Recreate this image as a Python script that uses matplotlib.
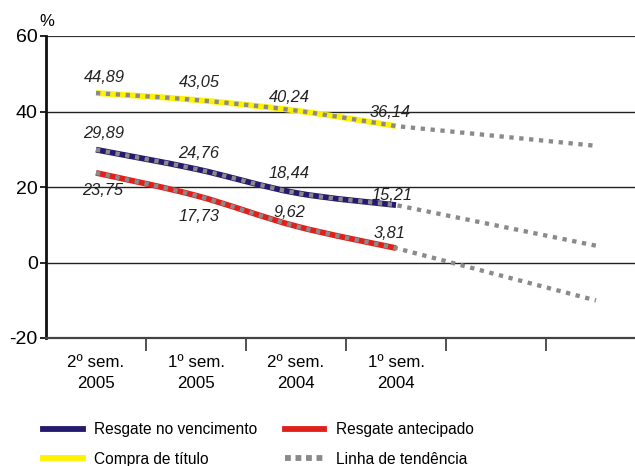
import numpy as np
import matplotlib
matplotlib.use("Agg")
import matplotlib.pyplot as plt
from matplotlib.lines import Line2D
from matplotlib.path import Path
from matplotlib.patches import PathPatch

plt.rcParams['font.family'] = ['Liberation Sans', 'DejaVu Sans']

periods = ["2º sem.\n2005", "1º sem.\n2005", "2º sem.\n2004", "1º sem.\n2004", "", ""]
compra = [44.89, 43.05, 40.24, 36.14]
vencimento = [29.89, 24.76, 18.44, 15.21]
antecipado = [23.75, 17.73, 9.62, 3.81]

# label offsets in pixels (dx, dy) for each point
off_compra = [(8, 16), (3, 17), (-7, 13), (-6, 14)]
off_venc = [(8, 16), (3, 16), (-7, 19), (-4, 10)]
off_antec = [(7, -18), (3, -21), (-7, 14), (-6, 15)]

blue = "#261a6e"
red = "#e0201b"
yellow = "#fff200"
grey = "#8a8a8a"
dots = (0, (1, 1.3))


def smooth_path(xs, ys, tail=None):
    # cubic bezier through the points (catmull-rom style), optional straight tail
    pts = np.column_stack([xs, ys]).astype(float)
    ext = np.vstack([pts[0], pts, pts[-1]])
    verts = [pts[0]]
    codes = [Path.MOVETO]
    for i in range(len(pts) - 1):
        p0, p1, p2, p3 = ext[i], ext[i + 1], ext[i + 2], ext[i + 3]
        verts += [p1 + (p2 - p0) / 6, p2 - (p3 - p1) / 6, p2]
        codes += [Path.CURVE4] * 3
    if tail is not None:
        verts.append(tail)
        codes.append(Path.LINETO)
    return Path(verts, codes)


fig = plt.figure(figsize=(6.35, 4.66), dpi=100)
ax = fig.add_axes([46/635, 128/466, 600/635, 302/466])

x = np.arange(len(compra))
xt = np.arange(len(periods))

for vals, col in [(compra, yellow), (vencimento, blue), (antecipado, red)]:
    ax.add_patch(PathPatch(smooth_path(x, vals), fill=False, edgecolor=col,
                           lw=4.2, capstyle='butt', zorder=3))
    # trend line: follows the series, then extends to the last period
    k, b = np.polyfit(x, vals, 1)
    ax.add_patch(PathPatch(smooth_path(x, vals, tail=(xt[-1], k*xt[-1] + b)),
                           fill=False, edgecolor=grey, lw=3.1, linestyle=dots,
                           capstyle='butt', zorder=4))

for vals, offs in [(compra, off_compra), (vencimento, off_venc), (antecipado, off_antec)]:
    for i, v in enumerate(vals):
        ax.annotate(f"{v:.2f}".replace(".", ","), (i, v), xytext=offs[i],
                    textcoords='offset pixels', ha='center', va='center',
                    fontsize=11.8, style='italic', color='#222222', zorder=5)

ax.set_xlim(-0.5, 5.5)
ax.set_ylim(-20, 60)
ax.set_yticks([-20, 0, 20, 40, 60])
ax.set_yticklabels(["-20", "0", "20", "40", "60"], fontsize=14)
for yv in [0, 20, 40]:
    ax.axhline(yv, color='#222222', lw=1.0, zorder=1)
ax.axhline(60, color='#333333', lw=1.6, zorder=1)

ax.set_xticks(np.arange(0.5, 5.5, 1.0))
ax.set_xticklabels([])
ax.set_xticks(xt, minor=True)
ax.set_xticklabels(periods, minor=True, fontsize=12.2, linespacing=1.55)
ax.tick_params(axis='x', which='major', direction='out', length=9, width=1.2, color='#333333')
ax.tick_params(axis='x', which='minor', length=0, pad=12)
ax.tick_params(axis='y', direction='out', length=4, width=1.2, pad=2)

for s in ['top', 'right']:
    ax.spines[s].set_visible(False)
ax.spines['left'].set_linewidth(2.0)
ax.spines['left'].set_color('#111111')
ax.spines['bottom'].set_linewidth(1.6)
ax.spines['bottom'].set_color('#444444')

fig.text(39/635, 1 - 21/466, "%", fontsize=12, ha='left', va='center')

# legend fills column by column
handles = [
    Line2D([], [], color=blue, lw=4.2),
    Line2D([], [], color=yellow, lw=4.2),
    Line2D([], [], color=red, lw=4.2),
    Line2D([], [], color=grey, lw=4.2, linestyle=(0, (1, 0.8))),
]
labels = ["Resgate no vencimento", "Compra de título", "Resgate antecipado", "Linha de tendência"]
fig.legend(handles, labels, ncol=2, loc='upper left', bbox_to_anchor=(29/635, 1 - 408/466),
           frameon=False, fontsize=11.2, handlelength=2.55, handletextpad=0.75,
           columnspacing=1.75, labelspacing=0.95)

fig.savefig("out.png", dpi=100)
